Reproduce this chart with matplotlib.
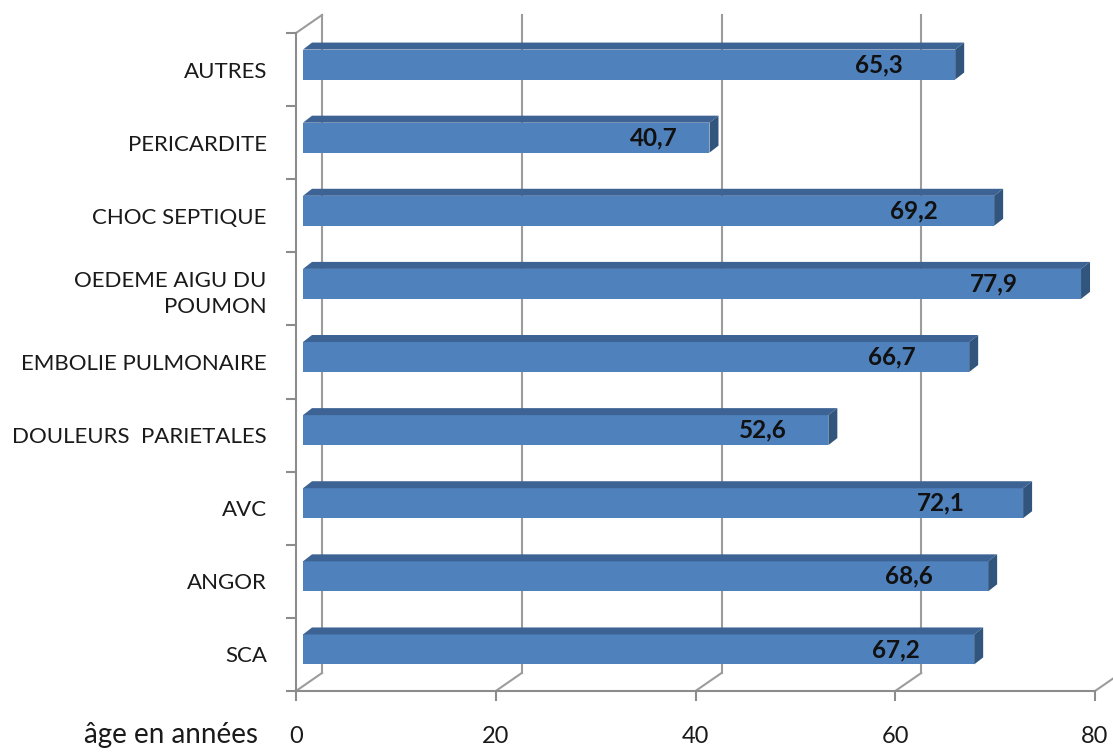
import matplotlib
matplotlib.use('Agg')
import matplotlib.pyplot as plt
from matplotlib import transforms
from matplotlib.patches import Polygon
from matplotlib.lines import Line2D

categories = ["SCA", "ANGOR", "AVC", "DOULEURS  PARIETALES", "EMBOLIE PULMONAIRE",
              "OEDEME AIGU DU\nPOUMON", "CHOC SEPTIQUE", "PERICARDITE", "AUTRES"]
values = [67.2, 68.6, 72.1, 52.6, 66.7, 77.9, 69.2, 40.7, 65.3]
value_labels = ["67,2", "68,6", "72,1", "52,6", "66,7", "77,9", "69,2", "40,7", "65,3"]
xticks = [0, 20, 40, 60, 80]
xtick_labels = ["0", "20", "40", "60", "80"]
xlabel = "âge en années"

plt.rcParams['font.family'] = ['Lato', 'DejaVu Sans']

W, H, DPI = 1113, 752, 100
fig = plt.figure(figsize=(W / DPI, H / DPI), dpi=DPI)
fig.patch.set_facecolor('white')
ax = fig.add_axes([296 / W, 61 / H, 799 / W, 658 / H])
n = len(categories)
ylo, yhi = -0.5, n - 0.5
ax.set_xlim(0, 80)
ax.set_ylim(ylo, yhi)
ax.patch.set_alpha(0)

grid_col = '#9C9C9C'
axis_col = '#8C8C8C'
for s in ['top', 'right']:
    ax.spines[s].set_visible(False)
for s in ['left', 'bottom']:
    ax.spines[s].set_color(axis_col)
    ax.spines[s].set_linewidth(1.5)

# back wall offset (pixels)
BDX, BDY = 26, 18
wall = transforms.offset_copy(ax.transData, fig=fig, x=BDX, y=BDY, units='dots')
for v in xticks:
    ax.add_line(Line2D([v, v], [ylo, yhi], transform=wall, color=grid_col,
                       lw=1.5, clip_on=False, zorder=1))
fig.canvas.draw()
T = ax.transData
ident = transforms.IdentityTransform()

def diag(x, y):
    p = T.transform((x, y))
    ax.add_line(Line2D([p[0], p[0] + BDX], [p[1], p[1] + BDY], transform=ident,
                       color=grid_col, lw=1.5, clip_on=False, zorder=1))

for v in xticks:
    diag(v, ylo)
diag(0, yhi)

# ticks
ax.set_xticks(xticks)
ax.set_xticklabels(xtick_labels)
ax.set_yticks(range(n))
ax.set_yticklabels(categories, linespacing=1.38)
ax.set_yticks([ylo + k for k in range(n + 1)], minor=True)
ax.tick_params(axis='y', which='major', length=0, pad=21, labelsize=16, colors='#1a1a1a')
ax.tick_params(axis='y', which='minor', length=7, width=1.5, color=axis_col)
ax.tick_params(axis='x', which='major', length=7, width=1.5, color=axis_col,
               pad=18, labelsize=17, labelcolor='#1a1a1a')

# 3D bars
FDX, FDY = 7, 5      # front face offset from front plane
DDX, DDY = 9, 7      # bar depth
bar_h = 0.41
front = transforms.offset_copy(ax.transData, fig=fig, x=FDX, y=FDY, units='dots')
c_front = '#4F81BD'
c_top = '#3C6394'
c_side = '#32557D'
for i, v in enumerate(values):
    ax.barh(i, v, height=bar_h, left=0, color=c_front, transform=front,
            clip_on=False, zorder=3)
    x0, yb = T.transform((0, i - bar_h / 2))
    x1, yt = T.transform((v, i + bar_h / 2))
    x0 += FDX; x1 += FDX; yb += FDY; yt += FDY
    top = Polygon([(x0, yt), (x1, yt), (x1 + DDX, yt + DDY), (x0 + DDX, yt + DDY)],
                  closed=True, transform=ident, facecolor=c_top, edgecolor='none',
                  clip_on=False, zorder=3)
    side = Polygon([(x1, yb), (x1, yt), (x1 + DDX, yt + DDY), (x1 + DDX, yb + DDY)],
                   closed=True, transform=ident, facecolor=c_side, edgecolor='none',
                   clip_on=False, zorder=3)
    ax.add_patch(top)
    ax.add_patch(side)
    ax.text(0.914 * v - 2.05, i, value_labels[i], transform=front, ha='center',
            va='center', fontsize=17.5, fontweight='bold', color='#111111', zorder=5)

fig.text(258 / W, 1 - 743 / H, xlabel, ha='right', va='baseline', fontsize=20,
         color='#1a1a1a')

fig.savefig('out.png', dpi=DPI)
